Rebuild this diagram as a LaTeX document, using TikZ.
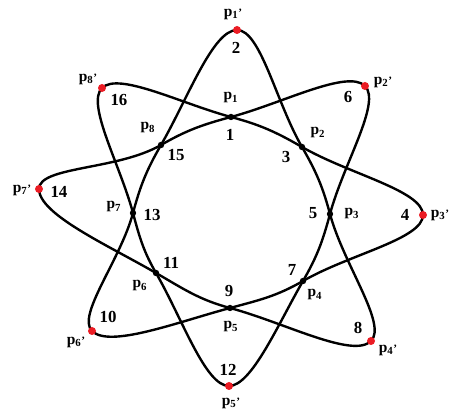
\documentclass[tikz,border=0pt]{standalone}
\usepackage{fontspec}
\setmainfont{Liberation Serif}
\usepackage{tikz}

\definecolor{dotred}{RGB}{235,28,36}
\newcommand{\plab}[1]{p\textsubscript{#1}}
\newcommand{\qlab}[1]{p\textsubscript{#1}{\footnotesize'}}

\begin{document}
\begin{tikzpicture}[
    x=0.025cm, y=0.025cm,
    curve/.style={line width=1.7pt, line cap=round, line join=round},
    num/.style={font=\fontsize{12}{12}\selectfont\bfseries, inner sep=0pt},
    lab/.style={font=\fontsize{11}{11}\selectfont\bfseries, inner sep=0pt}
]
\useasboundingbox (0,0) rectangle (449,412);

% points on the circle
\coordinate (p1) at (231,295);
\coordinate (p2) at (302,265);
\coordinate (p3) at (330,198);
\coordinate (p4) at (303,131);
\coordinate (p5) at (230,104);
\coordinate (p6) at (156,139);
\coordinate (p7) at (133,199);
\coordinate (p8) at (161,267);
% outer points
\coordinate (q1) at (237,382);
\coordinate (q2) at (365,326);
\coordinate (q3) at (423,197);
\coordinate (q4) at (371,71);
\coordinate (q5) at (229,26);
\coordinate (q6) at (92,81);
\coordinate (q7) at (39,223);
\coordinate (q8) at (102,324);

% strands q_k -> p_{k+1} -> p_{k+2} -> q_{k+3}
\foreach \k/\i/\j/\l in {1/2/3/4, 2/3/4/5, 3/4/5/6, 4/5/6/7, 5/6/7/8, 6/7/8/1, 7/8/1/2, 8/1/2/3}{
  \pgfmathsetmacro\oa{45-45*\k}
  \pgfmathsetmacro\ia{165-45*\k}
  \pgfmathsetmacro\ob{-15-45*\k}
  \pgfmathsetmacro\ib{150-45*\k}
  \pgfmathsetmacro\oc{-30-45*\k}
  \pgfmathsetmacro\ic{90-45*\k}
  \draw[curve] (q\k) to[out=\oa, in=\ia, out looseness=0.45] (p\i)
    to[out=\ob, in=\ib] (p\j)
    to[out=\oc, in=\ic, in looseness=0.45] (q\l);
}

% dots
\foreach \k in {1,...,8}{
  \fill[dotred] (q\k) circle (4);
  \fill (p\k) circle (3.2);
}

% labels of the points
\node (lq1) [lab] at (233,398) {\qlab{1}};
\node (lq2) [lab] at (383,330) {\qlab{2}};
\node (lq3) [lab] at (440,197) {\qlab{3}};
\node (lq4) [lab] at (388,62) {\qlab{4}};
\node (lq5) [lab] at (231,9) {\qlab{5}};
\node (lq6) [lab] at (76,70) {\qlab{6}};
\node (lq7) [lab] at (22,222) {\qlab{7}};
\node (lq8) [lab] at (88,333) {\qlab{8}};
\node (lp1) [lab] at (231,314) {\plab{1}};
\node (lp2) [lab] at (318,279) {\plab{2}};
\node (lp3) [lab] at (352,198) {\plab{3}};
\node (lp4) [lab] at (315,117) {\plab{4}};
\node (lp5) [lab] at (231,85) {\plab{5}};
\node (lp6) [lab] at (140,126) {\plab{6}};
\node (lp7) [lab] at (114,205) {\plab{7}};
\node (lp8) [lab] at (148,284) {\plab{8}};

% numbers
\node (n1) [num] at (230,277) {1};
\node (n2) [num] at (236,364) {2};
\node (n3) [num] at (286,255) {3};
\node (n4) [num] at (405,197) {4};
\node (n5) [num] at (313,199) {5};
\node (n6) [num] at (348,315) {6};
\node (n7) [num] at (292,142) {7};
\node (n8) [num] at (358,84) {8};
\node (n9) [num] at (229,121) {9};
\node (n10) [num] at (108,95) {10};
\node (n11) [num] at (171,149) {11};
\node (n12) [num] at (228,42) {12};
\node (n13) [num] at (152,197) {13};
\node (n14) [num] at (59,220) {14};
\node (n15) [num] at (176,257) {15};
\node (n16) [num] at (119,312) {16};

\end{tikzpicture}
\end{document}
